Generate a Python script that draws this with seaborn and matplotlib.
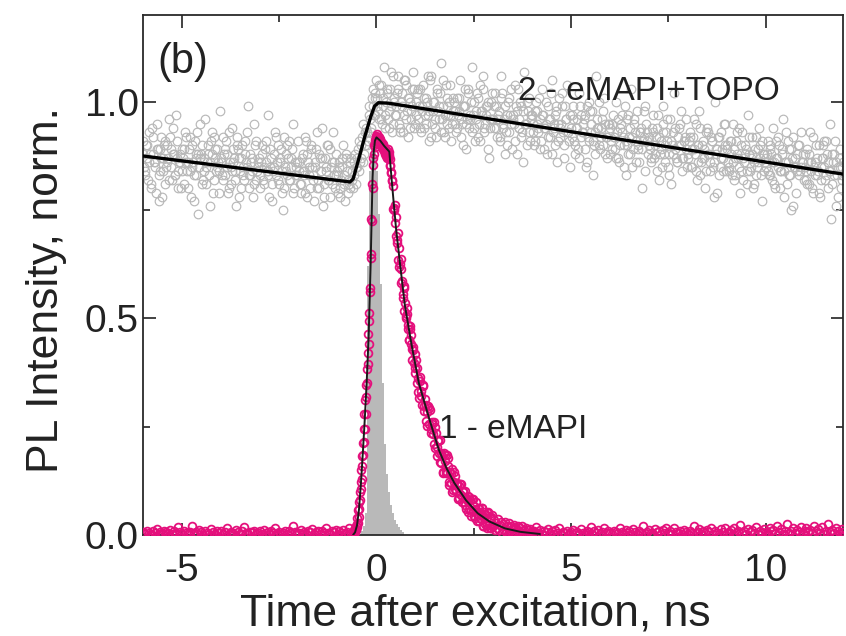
import numpy as np
import matplotlib
matplotlib.use("Agg")
import matplotlib.pyplot as plt
import seaborn as sns
from matplotlib.ticker import MultipleLocator, FormatStrFormatter

sns.set_theme(style="ticks")
plt.rcParams['font.family'] = ['Liberation Sans', 'DejaVu Sans']
plt.rcParams['axes.unicode_minus'] = False

# ---------------- data ----------------
# series 2 (eMAPI+TOPO), grey open circles; three interleaved channel sets
gray_x_a = np.linspace(-6.0, 12.0, 361)
gray_y_a = [
    0.91, 0.84, 0.87, 0.93, 0.80, 0.88, 0.86, 0.95, 0.83, 0.89, 0.78, 0.90, 0.85, 0.87, 0.92, 0.82, 0.88, 0.97, 0.84, 0.86,
    0.89, 0.81, 0.92, 0.86, 0.84, 0.90, 0.77, 0.87, 0.93, 0.85, 0.88, 0.82, 0.96, 0.86, 0.83, 0.91, 0.79, 0.87, 0.89, 0.84,
    0.86, 0.92, 0.83, 0.88, 0.80, 0.85, 0.94, 0.87, 0.76, 0.89, 0.84, 0.90, 0.82, 0.86, 0.99, 0.83, 0.87, 0.81, 0.91, 0.85,
    0.80, 0.88, 0.85, 0.91, 0.83, 0.78, 0.87, 0.84, 0.93, 0.86, 0.81, 0.89, 0.75, 0.85, 0.90, 0.82, 0.87, 0.95, 0.83, 0.86,
    0.84, 0.79, 0.88, 0.83, 0.91, 0.86, 0.80, 0.85, 0.77, 0.89, 0.82, 0.87, 0.94, 0.81, 0.84, 0.90, 0.78, 0.86, 0.83, 0.88,
    0.79, 0.86, 0.82, 0.90, 0.77, 0.84, 0.81, 0.87, 0.80, 0.88, 0.85, 0.91, 0.87, 0.95, 0.90, 0.93, 0.99, 0.94, 1.03, 0.97,
    1.05, 0.98, 1.02, 0.95, 1.08, 1.00, 0.96, 1.03, 0.93, 1.01, 0.99, 1.06, 0.94, 1.02, 0.97, 1.04, 0.92, 1.00, 0.98, 1.07,
    0.95, 1.02, 0.99, 0.93, 1.04, 0.97, 1.00, 0.91, 1.06, 0.98, 0.94, 1.03, 0.96, 1.09, 0.99, 0.92, 1.01, 0.97, 1.04, 0.95,
    1.00, 0.93, 0.97, 1.05, 0.95, 0.99, 0.89, 1.02, 0.96, 1.08, 0.94, 0.98, 1.01, 0.91, 0.97, 1.03, 0.95, 0.99, 0.87, 1.00,
    0.96, 1.02, 0.92, 0.98, 1.06, 0.94, 0.99, 0.90, 1.01, 0.95, 0.97, 1.04, 0.88, 0.96, 1.00, 0.93, 1.07, 0.95, 0.98, 0.91,
    0.97, 0.90, 1.00, 0.94, 0.96, 1.03, 0.89, 0.95, 0.99, 0.92, 1.05, 0.94, 0.97, 0.86, 1.01, 0.95, 0.93, 0.99, 1.04, 0.91,
    0.94, 0.99, 0.88, 0.96, 1.02, 0.92, 0.95, 0.97, 0.86, 1.00, 0.93, 0.98, 0.90, 1.06, 0.94, 0.89, 0.96, 1.01, 0.92, 0.95,
    0.88, 0.95, 0.92, 1.00, 0.87, 0.94, 0.97, 0.90, 0.83, 0.96, 0.92, 1.03, 0.89, 0.93, 0.98, 0.86, 0.94, 0.91, 0.99, 0.93,
    0.92, 0.86, 0.97, 0.90, 0.94, 0.82, 0.91, 0.99, 0.88, 0.93, 0.85, 0.96, 0.90, 1.02, 0.87, 0.92, 0.95, 0.84, 0.91, 0.89,
    0.87, 0.93, 0.89, 0.96, 0.84, 0.90, 0.98, 0.86, 0.91, 0.80, 0.94, 0.88, 0.92, 0.85, 1.00, 0.89, 0.83, 0.93, 0.87, 0.95,
    0.90, 0.84, 0.88, 0.95, 0.82, 0.91, 0.87, 0.79, 0.93, 0.86, 0.89, 0.97, 0.84, 0.88, 0.81, 0.92, 0.86, 0.90, 0.77, 0.88,
    0.85, 0.91, 0.83, 0.88, 0.94, 0.80, 0.87, 0.90, 0.84, 0.96, 0.86, 0.81, 0.89, 0.75, 0.92, 0.85, 0.88, 0.83, 0.93, 0.86,
    0.88, 0.82, 0.86, 0.93, 0.80, 0.85, 0.90, 0.84, 0.78, 0.87, 0.91, 0.83, 0.86, 0.95, 0.81, 0.88, 0.76, 0.85, 0.89, 0.83,
    0.86,
]
gray_x_b = np.linspace(-5.975, 11.975, 360)
gray_y_b = [
    0.85, 0.90, 0.82, 0.88, 0.94, 0.86, 0.79, 0.89, 0.84, 0.92, 0.87, 0.81, 0.90, 0.96, 0.85, 0.88, 0.83, 0.91, 0.86, 0.80,
    0.87, 0.93, 0.84, 0.89, 0.78, 0.86, 0.91, 0.83, 0.88, 0.95, 0.81, 0.87, 0.85, 0.90, 0.76, 0.88, 0.92, 0.84, 0.86, 0.98,
    0.83, 0.88, 0.91, 0.79, 0.86, 0.84, 0.89, 0.82, 0.92, 0.87, 0.80, 0.85, 0.88, 0.93, 0.83, 0.86, 0.78, 0.90, 0.84, 0.87,
    0.86, 0.82, 0.89, 0.84, 0.97, 0.85, 0.81, 0.88, 0.83, 0.90, 0.86, 0.79, 0.92, 0.84, 0.87, 0.82, 0.89, 0.80, 0.85, 0.91,
    0.81, 0.87, 0.84, 0.92, 0.78, 0.85, 0.89, 0.83, 0.86, 0.80, 0.88, 0.84, 0.76, 0.87, 0.90, 0.82, 0.85, 0.93, 0.80, 0.84,
    0.85, 0.80, 0.87, 0.83, 0.88, 0.79, 0.86, 0.82, 0.86, 0.81, 0.89, 0.86, 0.92, 0.88, 0.94, 0.91, 0.96, 1.01, 0.97, 1.02,
    0.99, 1.04, 0.96, 1.01, 0.97, 1.03, 0.94, 0.99, 1.06, 0.97, 1.02, 0.95, 1.00, 0.93, 1.05, 0.98, 1.01, 0.96, 1.03, 0.94,
    1.00, 0.96, 1.03, 0.98, 0.94, 1.01, 0.97, 1.05, 0.95, 1.00, 0.92, 0.98, 1.02, 0.96, 0.93, 1.04, 0.99, 0.94, 0.97, 1.01,
    0.95, 1.01, 0.98, 0.92, 0.99, 1.03, 0.96, 0.94, 1.00, 0.97, 0.91, 1.02, 0.95, 0.98, 1.06, 0.93, 0.97, 1.00, 0.94, 0.96,
    0.99, 0.94, 0.97, 0.91, 1.02, 0.96, 0.93, 1.00, 0.97, 0.89, 0.95, 0.99, 1.03, 0.94, 0.92, 0.98, 0.95, 0.90, 1.01, 0.96,
    0.93, 0.98, 0.95, 1.01, 0.91, 0.97, 0.94, 0.88, 0.96, 1.02, 0.93, 0.90, 0.98, 0.95, 0.92, 0.99, 0.87, 0.96, 0.93, 0.97,
    0.97, 0.91, 0.94, 0.89, 0.99, 0.93, 0.96, 0.85, 0.92, 0.98, 0.95, 0.91, 0.88, 0.94, 1.00, 0.92, 0.90, 0.95, 0.87, 0.93,
    0.91, 0.97, 0.89, 0.93, 0.86, 0.95, 0.92, 0.99, 0.90, 0.88, 0.94, 0.85, 0.96, 0.91, 0.89, 0.93, 0.80, 0.92, 0.95, 0.88,
    0.89, 0.94, 0.87, 0.92, 0.97, 0.88, 0.85, 0.93, 0.90, 0.96, 0.83, 0.91, 0.88, 0.94, 0.86, 0.90, 0.98, 0.87, 0.92, 0.85,
    0.91, 0.85, 0.92, 0.88, 0.82, 0.90, 0.94, 0.87, 0.89, 0.84, 0.93, 0.86, 0.91, 0.78, 0.88, 0.92, 0.85, 0.89, 0.95, 0.84,
    0.86, 0.91, 0.83, 0.89, 0.87, 0.93, 0.85, 0.90, 0.82, 0.88, 0.84, 0.92, 0.87, 0.80, 0.89, 0.85, 0.94, 0.83, 0.88, 0.86,
    0.88, 0.83, 0.90, 0.86, 0.81, 0.87, 0.92, 0.84, 0.89, 0.78, 0.86, 0.91, 0.83, 0.87, 0.85, 0.79, 0.90, 0.84, 0.86, 0.82,
    0.84, 0.89, 0.81, 0.86, 0.92, 0.83, 0.87, 0.79, 0.85, 0.90, 0.82, 0.88, 0.84, 0.73, 0.86, 0.91, 0.83, 0.87, 0.80, 0.85,
]
gray_x_c = np.linspace(-5.9875, 11.9625, 360)
gray_y_c = [
    0.88, 0.83, 0.90, 0.86, 0.81, 0.92, 0.85, 0.89, 0.77, 0.87, 0.84, 0.91, 0.86, 0.82, 0.89, 0.94, 0.83, 0.87, 0.80, 0.88,
    0.84, 0.89, 0.86, 0.80, 0.92, 0.85, 0.83, 0.88, 0.74, 0.87, 0.90, 0.84, 0.81, 0.88, 0.86, 0.93, 0.82, 0.89, 0.85, 0.79,
    0.87, 0.82, 0.89, 0.85, 0.93, 0.81, 0.86, 0.84, 0.90, 0.78, 0.87, 0.83, 0.91, 0.85, 0.80, 0.88, 0.84, 0.95, 0.82, 0.86,
    0.83, 0.90, 0.81, 0.86, 0.84, 0.89, 0.77, 0.85, 0.92, 0.82, 0.87, 0.84, 0.80, 0.88, 0.83, 0.91, 0.85, 0.79, 0.86, 0.83,
    0.86, 0.81, 0.84, 0.79, 0.88, 0.83, 0.90, 0.82, 0.85, 0.93, 0.80, 0.84, 0.87, 0.78, 0.85, 0.82, 0.89, 0.81, 0.86, 0.83,
    0.83, 0.78, 0.85, 0.81, 0.87, 0.82, 0.80, 0.84, 0.83, 0.85, 0.87, 0.84, 0.90, 0.86, 0.93, 0.90, 0.97, 0.93, 0.99, 1.01,
    1.01, 0.96, 1.04, 0.99, 0.94, 1.02, 0.98, 1.07, 0.95, 1.00, 0.97, 1.03, 0.93, 0.99, 1.05, 0.96, 1.01, 0.94, 0.99, 1.03,
    0.97, 1.03, 0.94, 0.99, 1.01, 0.95, 1.06, 0.98, 0.92, 1.00, 0.96, 1.02, 0.99, 0.93, 1.05, 0.97, 0.95, 1.00, 0.91, 0.98,
    0.98, 0.94, 1.01, 0.96, 0.90, 0.99, 0.95, 1.03, 0.97, 0.93, 1.00, 0.96, 0.92, 1.04, 0.98, 0.94, 0.99, 0.89, 0.96, 1.02,
    0.94, 0.99, 0.96, 0.92, 1.01, 0.95, 0.88, 0.97, 0.93, 1.03, 0.96, 0.91, 0.98, 0.94, 0.99, 0.86, 0.95, 1.00, 0.93, 0.97,
    0.95, 0.91, 0.98, 0.93, 0.89, 0.97, 0.94, 1.00, 0.92, 0.96, 0.88, 0.95, 0.99, 0.91, 0.94, 1.02, 0.90, 0.96, 0.93, 0.85,
    0.92, 0.96, 0.90, 0.94, 0.87, 0.97, 0.93, 0.89, 0.99, 0.91, 0.95, 0.83, 0.93, 0.96, 0.90, 0.94, 0.98, 0.88, 0.92, 0.95,
    0.94, 0.89, 0.92, 0.87, 0.96, 0.90, 0.93, 0.85, 0.91, 0.97, 0.88, 0.92, 0.95, 0.86, 0.90, 0.93, 0.89, 0.98, 0.84, 0.91,
    0.90, 0.87, 0.93, 0.88, 0.84, 0.92, 0.89, 0.95, 0.86, 0.91, 0.88, 0.81, 0.93, 0.89, 0.86, 0.94, 0.90, 0.87, 0.91, 0.96,
    0.88, 0.92, 0.85, 0.89, 0.95, 0.86, 0.83, 0.90, 0.87, 0.93, 0.88, 0.84, 0.91, 0.86, 0.89, 0.79, 0.92, 0.87, 0.84, 0.90,
    0.89, 0.85, 0.91, 0.86, 0.83, 0.88, 0.94, 0.84, 0.87, 0.90, 0.81, 0.88, 0.85, 0.92, 0.86, 0.83, 0.89, 0.87, 0.91, 0.84,
    0.87, 0.84, 0.89, 0.82, 0.86, 0.91, 0.85, 0.80, 0.88, 0.84, 0.93, 0.86, 0.83, 0.89, 0.76, 0.87, 0.84, 0.90, 0.85, 0.88,
    0.85, 0.81, 0.88, 0.84, 0.79, 0.86, 0.83, 0.90, 0.82, 0.87, 0.85, 0.91, 0.80, 0.84, 0.88, 0.83, 0.86, 0.78, 0.85, 0.82,
]

# series 1 (eMAPI), magenta open circles
pink_x = np.concatenate([
    np.linspace(-6.0, -0.65, 108),   # baseline before pulse
    np.linspace(-0.60, 0.40, 101),   # rise and peak
    np.linspace(0.42, 1.00, 30),     # early decay
    np.linspace(1.025, 4.0, 120),    # decay
    np.linspace(4.05, 12.0, 160),    # baseline after decay
    np.linspace(0.43, 2.99, 65),     # interleaved decay channels
])
pink_y = [
    # -6 .. -0.65
    0.006, 0.002, 0.010, 0.004, 0.000, 0.008, 0.005, 0.014, 0.003, 0.007, 0.001, 0.009, 0.006, 0.004, 0.012, 0.002, 0.008, 0.005, 0.018, 0.006,
    0.003, 0.009, 0.005, 0.001, 0.007, 0.020, 0.004, 0.006, 0.002, 0.011, 0.006, 0.000, 0.008, 0.005, 0.003, 0.013, 0.006, 0.002, 0.008, 0.004,
    0.010, 0.003, 0.006, 0.016, 0.002, 0.007, 0.005, 0.001, 0.011, 0.006, 0.003, 0.008, 0.019, 0.004, 0.002, 0.007, 0.006, 0.010, 0.003, 0.005,
    0.008, 0.002, 0.012, 0.004, 0.006, 0.001, 0.009, 0.005, 0.015, 0.003, 0.007, 0.002, 0.005, 0.010, 0.002, 0.008, 0.004, 0.021, 0.006, 0.003,
    0.005, 0.011, 0.002, 0.007, 0.001, 0.009, 0.006, 0.014, 0.003, 0.006, 0.010, 0.002, 0.008, 0.004, 0.017, 0.005, 0.003, 0.009, 0.006, 0.012,
    0.003, 0.008, 0.005, 0.011, 0.002, 0.007, 0.016, 0.005,
    # -0.60 .. 0.40
    0.004, 0.012, 0.002, 0.010, 0.006, 0.016, 0.008, 0.020, 0.012, 0.026,
    0.018, 0.040, 0.028, 0.058, 0.042, 0.075, 0.060, 0.098, 0.080, 0.122,
    0.105, 0.150, 0.128, 0.182, 0.158, 0.212, 0.185, 0.245, 0.215, 0.278,
    0.245, 0.312, 0.278, 0.345, 0.318, 0.382, 0.350, 0.420, 0.395, 0.465,
    0.440, 0.512, 0.495, 0.570, 0.560, 0.648, 0.640, 0.730, 0.725, 0.810,
    0.800, 0.870, 0.855, 0.900, 0.880,
    0.895, 0.912, 0.905, 0.918, 0.910,
    0.922, 0.915, 0.925, 0.912, 0.920, 0.908, 0.918, 0.905, 0.915, 0.902,
    0.912, 0.900, 0.908, 0.896, 0.905, 0.893, 0.902, 0.890, 0.898, 0.887,
    0.895, 0.884, 0.892, 0.880, 0.888, 0.876, 0.883, 0.870, 0.878, 0.885,
    0.890, 0.878, 0.884, 0.872, 0.868, 0.855, 0.853, 0.838, 0.835, 0.820,
    0.818,
    # 0.42 .. 1.00
    0.805, 0.750, 0.755, 0.720, 0.735, 0.675, 0.682, 0.635, 0.662, 0.625,
    0.637, 0.582, 0.587, 0.557, 0.575, 0.517, 0.535, 0.502, 0.525, 0.475,
    0.485, 0.450, 0.475, 0.440, 0.462, 0.405, 0.427, 0.397, 0.417, 0.385,
    # 1.025 .. 4.0
    0.404, 0.351, 0.362, 0.316, 0.356, 0.333, 0.301, 0.344, 0.297, 0.314,
    0.264, 0.284, 0.297, 0.257, 0.288, 0.236, 0.255, 0.233, 0.261, 0.200,
    0.235, 0.183, 0.216, 0.188, 0.218, 0.167, 0.183, 0.144, 0.190, 0.170,
    0.144, 0.184, 0.143, 0.160, 0.116, 0.145, 0.120, 0.152, 0.103, 0.123,
    0.136, 0.101, 0.115, 0.082, 0.114, 0.094, 0.117, 0.077, 0.098, 0.077,
    0.101, 0.060, 0.081, 0.089, 0.059, 0.080, 0.044, 0.083, 0.054, 0.067,
    0.038, 0.076, 0.048, 0.063, 0.033, 0.053, 0.036, 0.063, 0.021, 0.043,
    0.053, 0.025, 0.045, 0.015, 0.053, 0.023, 0.038, 0.015, 0.045, 0.022,
    0.035, 0.012, 0.028, 0.016, 0.036, 0.011, 0.022, 0.030, 0.004, 0.024,
    0.011, 0.029, 0.007, 0.020, 0.003, 0.027, 0.009, 0.020, 0.002, 0.015,
    0.022, 0.003, 0.016, 0.004, 0.021, 0.000, 0.010, 0.016, 0.000, 0.021,
    0.002, 0.011, 0.001, 0.016, 0.003, 0.012, 0.001, 0.014, 0.003, 0.008,
    # 4.05 .. 12
    0.008, 0.018, 0.005, 0.012, 0.003, 0.010, 0.006, 0.014, 0.004, 0.008, 0.002, 0.011, 0.005, 0.016, 0.003, 0.007, 0.005, 0.009, 0.002, 0.006,
    0.012, 0.004, 0.007, 0.002, 0.013, 0.005, 0.003, 0.009, 0.006, 0.019, 0.002, 0.008, 0.004, 0.011, 0.001, 0.006, 0.015, 0.004, 0.009, 0.005,
    0.002, 0.010, 0.006, 0.004, 0.016, 0.007, 0.002, 0.012, 0.005, 0.009, 0.003, 0.014, 0.006, 0.002, 0.010, 0.005, 0.020, 0.004, 0.007, 0.011,
    0.005, 0.002, 0.013, 0.006, 0.009, 0.002, 0.011, 0.005, 0.017, 0.004, 0.008, 0.003, 0.015, 0.007, 0.005, 0.010, 0.002, 0.012, 0.006, 0.003,
    0.010, 0.005, 0.020, 0.004, 0.007, 0.013, 0.002, 0.009, 0.005, 0.012, 0.006, 0.017, 0.003, 0.008, 0.005, 0.002, 0.013, 0.007, 0.016, 0.004,
    0.007, 0.012, 0.003, 0.015, 0.005, 0.009, 0.022, 0.004, 0.008, 0.002, 0.013, 0.006, 0.011, 0.004, 0.018, 0.003, 0.009, 0.005, 0.014, 0.007,
    0.004, 0.016, 0.008, 0.011, 0.005, 0.020, 0.006, 0.013, 0.003, 0.010, 0.024, 0.005, 0.008, 0.015, 0.004, 0.012, 0.007, 0.019, 0.005, 0.010,
    0.015, 0.006, 0.011, 0.004, 0.021, 0.008, 0.013, 0.005, 0.018, 0.003, 0.010, 0.026, 0.006, 0.012, 0.004, 0.017, 0.009, 0.003, 0.014, 0.007,
    # interleaved 0.43 .. 2.99
    0.753, 0.761, 0.691, 0.697, 0.619, 0.613, 0.547, 0.571, 0.505, 0.510,
    0.451, 0.482, 0.429, 0.433, 0.374, 0.386, 0.331, 0.364, 0.321, 0.347,
    0.287, 0.299, 0.251, 0.293, 0.245, 0.260, 0.209, 0.248, 0.204, 0.218,
    0.169, 0.190, 0.145, 0.185, 0.147, 0.178, 0.123, 0.140, 0.098, 0.146,
    0.106, 0.120, 0.085, 0.118, 0.089, 0.101, 0.069, 0.086, 0.052, 0.088,
    0.057, 0.084, 0.044, 0.058, 0.031, 0.063, 0.038, 0.062, 0.021, 0.046,
    0.023, 0.050, 0.015, 0.041, 0.020,
]

# fit curves
fit1_x = [-0.60, -0.55, -0.50, -0.45, -0.40, -0.35, -0.30, -0.25, -0.20, -0.15, -0.12, -0.10, -0.07, -0.04, 0.0,
          0.1, 0.2, 0.33, 0.4, 0.5, 0.6, 0.73, 0.9, 1.09, 1.35, 1.6, 1.8, 2.0, 2.3, 2.6, 2.9, 3.3, 3.7, 4.2]
fit1_y = [0.0, 0.006, 0.022, 0.058, 0.118, 0.19, 0.268, 0.355, 0.462, 0.625, 0.748, 0.825, 0.885, 0.91, 0.918,
          0.91, 0.898, 0.885, 0.81, 0.71, 0.63, 0.53, 0.44, 0.35, 0.27, 0.197, 0.154, 0.12, 0.08, 0.05, 0.031,
          0.015, 0.007, 0.002]

fit2_x = [-6.0, -0.68, -0.6, -0.45, -0.3, -0.15, -0.05, 0.05, 0.3, 12.0]
fit2_y = [0.875, 0.815, 0.822, 0.87, 0.92, 0.965, 0.99, 0.998, 0.997, 0.833]

# instrument response (grey filled histogram)
irf_x = [-0.45, -0.40, -0.35, -0.30, -0.25, -0.20, -0.15, -0.10, -0.05, 0.00, 0.05, 0.10,
         0.15, 0.20, 0.25, 0.30, 0.35, 0.40, 0.45, 0.50, 0.55, 0.60, 0.65, 0.70]
irf_y = [0.0, 0.01, 0.02, 0.05, 0.62, 0.84, 0.91, 0.93, 0.90, 0.84, 0.74, 0.58,
         0.35, 0.21, 0.14, 0.10, 0.07, 0.05, 0.035, 0.025, 0.018, 0.012, 0.006, 0.0]

xticks = [-5, 0, 5, 10]
yticks = [0.0, 0.5, 1.0]

# ---------------- plot ----------------
fig = plt.figure(figsize=(8.46, 6.36), dpi=100)
ax = fig.add_axes([0.169, 0.159, 0.828, 0.817])

gray_x = np.concatenate([gray_x_a, gray_x_b, gray_x_c])
gray_y = list(gray_y_a) + list(gray_y_b) + list(gray_y_c)
sns.lineplot(x=gray_x, y=gray_y, ax=ax, estimator=None, sort=False, marker='o', linestyle='',
             mfc='none', mec='#b8b8b8', ms=6.2, mew=0.85, zorder=1)
ax.fill_between(irf_x, irf_y, step='post', color='#b9b9b9', lw=0, zorder=2)
sns.lineplot(x=fit2_x, y=fit2_y, ax=ax, estimator=None, sort=False, color='black', lw=2.4, zorder=3)
sns.lineplot(x=pink_x, y=pink_y, ax=ax, estimator=None, sort=False, marker='o', linestyle='',
             mfc='none', mec='#e4107c', ms=5.6, mew=1.3, zorder=4)
sns.lineplot(x=fit1_x, y=fit1_y, ax=ax, estimator=None, sort=False, color='#1a1a1a', lw=1.4, zorder=5)

ax.set_xlim(-6, 12)
ax.set_ylim(0, 1.2)
ax.set_xticks(xticks)
ax.set_yticks(yticks)
ax.xaxis.set_minor_locator(MultipleLocator(2.5))
ax.yaxis.set_minor_locator(MultipleLocator(0.25))
ax.yaxis.set_major_formatter(FormatStrFormatter('%.1f'))
ax.tick_params(which='both', direction='in', top=True, right=True, width=1.2, color='#222222')
ax.tick_params(which='major', length=9, labelsize=28, labelcolor='#222222')
ax.tick_params(which='minor', length=5)
ax.tick_params(axis='x', which='major', pad=13)
ax.tick_params(axis='y', which='major', pad=3)
for s in ax.spines.values():
    s.set_linewidth(1.3)
    s.set_color('#2a2a2a')

ax.set_xlabel("Time after excitation, ns", fontsize=32, color='#222222', labelpad=3)
ax.set_ylabel("PL Intensity, norm.", fontsize=32, color='#222222', labelpad=13)
ax.xaxis.label.set_x(0.475)
ax.yaxis.label.set_y(0.471)

ax.text(0.021, 0.91, "(b)", transform=ax.transAxes, fontsize=30, va='center', ha='left', color='#222222')
ax.text(3.63, 1.025, "2 - eMAPI+TOPO", fontsize=24, va='center', ha='left', color='#222222')
ax.text(1.6, 0.243, "1 - eMAPI", fontsize=24, va='center', ha='left', color='#222222')

fig.savefig("out.png", dpi=100)
